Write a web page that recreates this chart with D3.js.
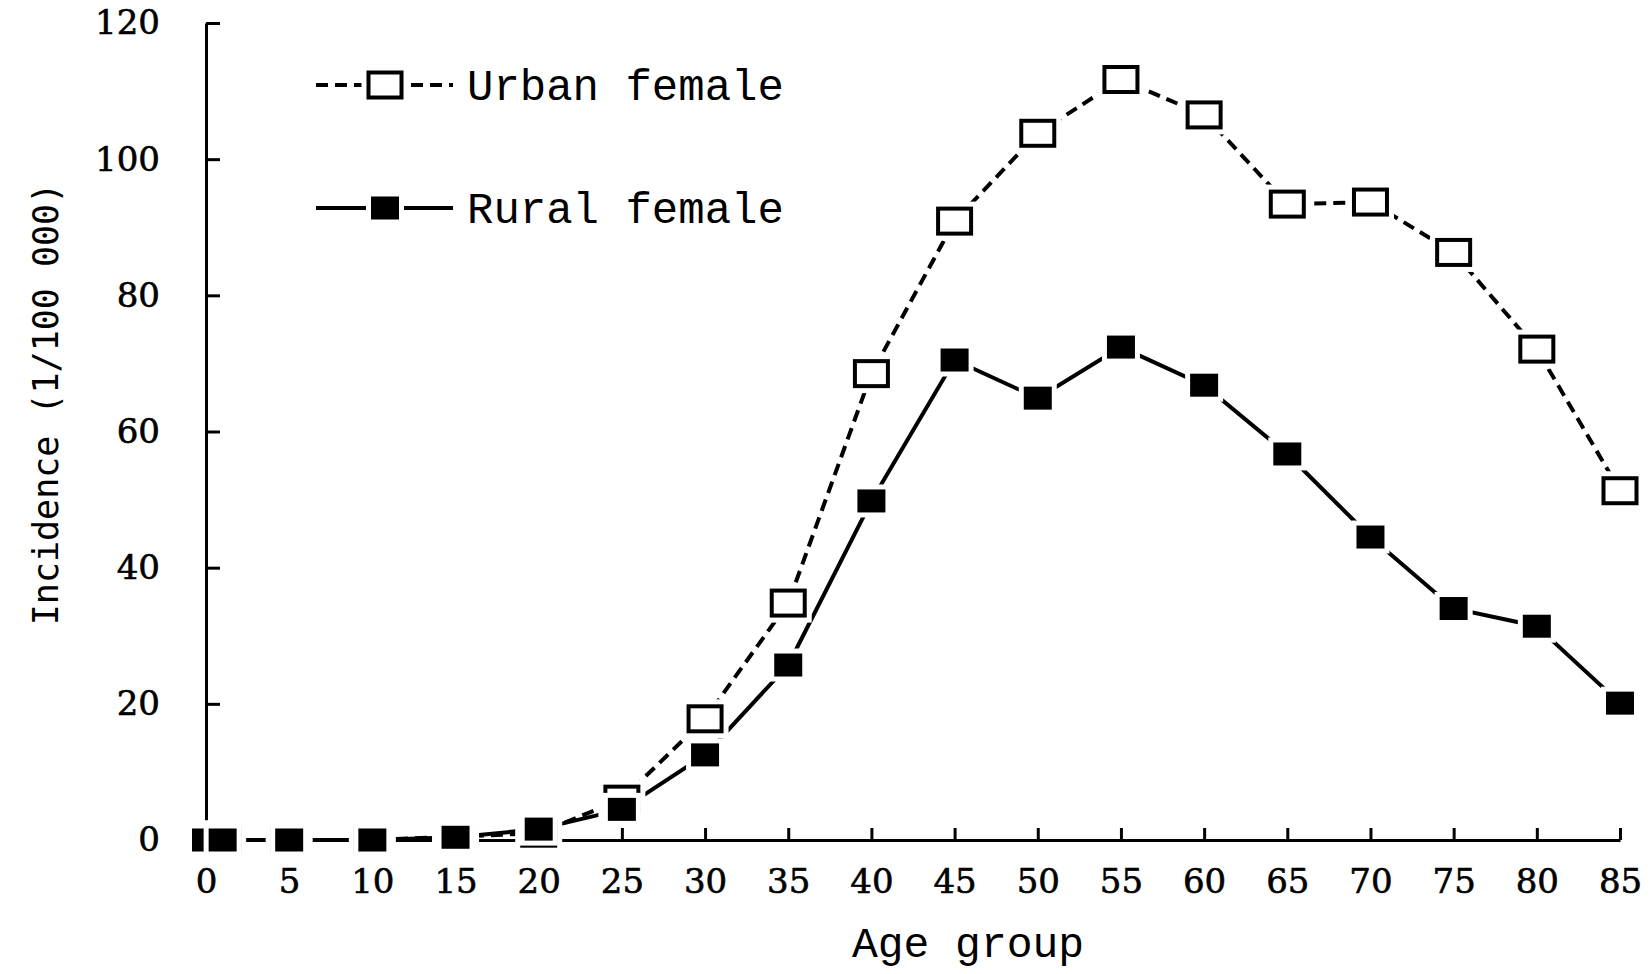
<!DOCTYPE html>
<html>
<head>
<meta charset="utf-8">
<script src="https://cdn.jsdelivr.net/npm/d3@7/dist/d3.min.js"></script>
<style>
  body { margin: 0; background: #fff; }
  svg { display: block; }
</style>
</head>
<body>
<div id="chart"></div>
<script>
// age group start (years)
const ageGroups = [0, 1, 5, 10, 15, 20, 25, 30, 35, 40, 45, 50, 55, 60, 65, 70, 75, 80, 85];
// incidence per 100 000
const urbanFemale = [0, 0, 0, 0, 0.5, 1.0, 6.0, 17.8, 34.8, 68.5, 90.9, 103.8, 111.7, 106.5, 93.4, 93.7, 86.3, 72.1, 51.3];
const ruralFemale = [0, 0, 0, 0, 0.4, 1.6, 4.5, 12.5, 25.7, 49.8, 70.5, 64.9, 72.4, 66.8, 56.7, 44.5, 34.0, 31.4, 20.1];
const xTicks = [0, 5, 10, 15, 20, 25, 30, 35, 40, 45, 50, 55, 60, 65, 70, 75, 80, 85];
const yTicks = [0, 20, 40, 60, 80, 100, 120];
const seriesNames = ['Urban female', 'Rural female'];

const width = 1650;
const height = 974;

const svg = d3
  .select('#chart')
  .append('svg')
  .attr('width', width)
  .attr('height', height);

const x = d3.scaleLinear().domain([0, 85]).range([206, 1620]);
const y = d3.scaleLinear().domain([0, 120]).range([840, 23]);

// axes, ticks pointing inward
const yAxis = svg
  .append('g')
  .attr('transform', `translate(${x(0)},0)`)
  .call(d3.axisLeft(y).tickValues(yTicks).tickSize(-14).tickSizeOuter(0).tickPadding(46));

const xAxis = svg
  .append('g')
  .attr('transform', `translate(0,${y(0)})`)
  .call(d3.axisBottom(x).tickValues(xTicks).tickSize(-12).tickSizeOuter(0).tickPadding(29));

[xAxis, yAxis].forEach((ax) => {
  ax.selectAll('path, line').attr('stroke', '#000').attr('stroke-width', 3);
  ax.selectAll('text')
    .attr('fill', '#000')
    .attr('stroke', '#000')
    .attr('stroke-width', 0.6)
    .style('font-family', '"DejaVu Serif", serif')
    .style('font-size', '34px');
});

// marker styles: open box for urban, filled box for rural
const markers = {
  open: { w: 33, h: 25, fill: '#fff', stroke: '#000', sw: 4 },
  filled: { w: 28, h: 23, fill: '#000', stroke: 'none', sw: 0 }
};
const halo = 5;

function drawMarker(g, cx, cy, type) {
  const m = markers[type];
  // white halo so lines stop short of the box
  g.append('rect')
    .attr('x', cx - m.w / 2)
    .attr('y', cy - m.h / 2)
    .attr('width', m.w)
    .attr('height', m.h)
    .attr('fill', '#fff')
    .attr('stroke', '#fff')
    .attr('stroke-width', m.sw + halo * 2);
  g.append('rect')
    .attr('x', cx - m.w / 2)
    .attr('y', cy - m.h / 2)
    .attr('width', m.w)
    .attr('height', m.h)
    .attr('fill', m.fill)
    .attr('stroke', m.stroke)
    .attr('stroke-width', m.sw);
}

const line = d3
  .line()
  .x((d) => x(d[0]))
  .y((d) => y(d[1]));

const urbanPts = ageGroups.map((a, i) => [a, urbanFemale[i]]);
const ruralPts = ageGroups.map((a, i) => [a, ruralFemale[i]]);

svg.append('path')
  .datum(urbanPts)
  .attr('d', line)
  .attr('fill', 'none')
  .attr('stroke', '#000')
  .attr('stroke-width', 4)
  .attr('stroke-dasharray', '12,7');

svg.append('path')
  .datum(ruralPts)
  .attr('d', line)
  .attr('fill', 'none')
  .attr('stroke', '#000')
  .attr('stroke-width', 4);

const urbanG = svg.append('g');
urbanPts.forEach((d) => drawMarker(urbanG, x(d[0]), y(d[1]), 'open'));
const ruralG = svg.append('g');
ruralPts.forEach((d) => drawMarker(ruralG, x(d[0]), y(d[1]), 'filled'));

// legend
const legendData = [
  { label: seriesNames[0], type: 'open', dash: '12,7', rowY: 85 },
  { label: seriesNames[1], type: 'filled', dash: null, rowY: 208 }
];

const legend = svg
  .selectAll('.legend')
  .data(legendData)
  .enter()
  .append('g')
  .attr('class', 'legend')
  .attr('transform', (d) => `translate(0, ${d.rowY})`);

legend.each(function (d) {
  const item = d3.select(this);
  item.append('line')
    .attr('x1', 316)
    .attr('x2', 453)
    .attr('y1', 0)
    .attr('y2', 0)
    .attr('stroke', '#000')
    .attr('stroke-width', 4)
    .attr('stroke-dasharray', d.dash);
  drawMarker(item, 385, 0, d.type);
  item.append('text')
    .attr('x', 467)
    .attr('y', 15)
    .style('font-family', '"Liberation Mono", monospace')
    .style('font-size', '44px')
    .text(d.label);
});

// axis titles
svg.append('text')
  .attr('x', 968)
  .attr('y', 957)
  .attr('text-anchor', 'middle')
  .style('font-family', '"Liberation Mono", monospace')
  .style('font-size', '43px')
  .text('Age group');

svg.append('text')
  .attr('transform', 'translate(58,404) rotate(-90)')
  .attr('text-anchor', 'middle')
  .style('font-family', '"DejaVu Sans Mono", monospace')
  .style('font-size', '35px')
  .text('Incidence (1/100 000)');
</script>
</body>
</html>
